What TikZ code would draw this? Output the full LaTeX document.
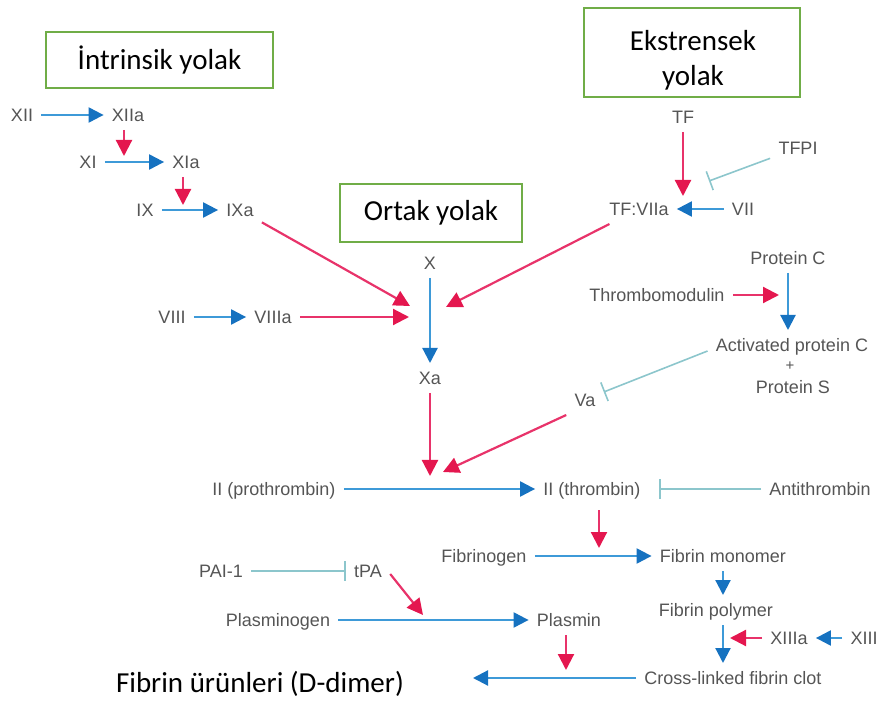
\documentclass[tikz,border=0pt]{standalone}
\usepackage{fontspec}
\setmainfont{Liberation Sans}
\newfontfamily\carlito{Carlito}
\usetikzlibrary{arrows.meta}
\definecolor{gboxc}{HTML}{70AD47}
\definecolor{bl}{HTML}{3E9AD8}
\definecolor{bld}{HTML}{1672C0}
\definecolor{rd}{HTML}{E8336A}
\definecolor{rdd}{HTML}{E4174F}
\definecolor{inh}{HTML}{8CC6CC}
\definecolor{txt}{HTML}{555555}
\begin{document}
\begin{tikzpicture}[x=0.5pt,y=-0.5pt,
  lab/.style={font=\fontsize{9}{11}\selectfont, text=txt, inner sep=4pt, text height=6.6pt, text depth=0pt},
  big/.style={font=\carlito\fontsize{14.5}{17.5}\selectfont, text=black, align=center},
  boxst/.style={draw=gboxc, line width=1.3pt, inner sep=0pt},
  ba/.style={draw=bl, line width=1.1pt, -{Triangle[length=7.5pt,width=7.5pt,color=bld]}},
  ra/.style={draw=rd, line width=1.1pt, -{Triangle[length=8pt,width=8pt,color=rdd]}},
  ia/.style={draw=inh, line width=0.8pt, -{Bar[width=10pt]}},
]
\useasboundingbox (0,0) rectangle (880,706);

% boxes
\node[boxst, big, minimum width=113.5pt, minimum height=28pt] (ibox) at (159.5,60) {İntrinsik yolak};
\node[boxst, big, minimum width=91pt, minimum height=29pt] (obox) at (431,213) {Ortak yolak};
\node[boxst, minimum width=108pt, minimum height=44.5pt] (ebox) at (692,52.5) {};
\node[big] (etext) at (693,60) {Ekstrensek\\yolak};

% labels
\node[lab] (XII) at (22,115) {XII};
\node[lab] (XIIa) at (128,115) {XIIa};
\node[lab] (XI) at (88,162) {XI};
\node[lab] (XIa) at (186,162) {XIa};
\node[lab] (IX) at (145,210) {IX};
\node[lab] (IXa) at (240,210) {IXa};
\node[lab] (X) at (430,263) {X};
\node[lab] (Xa) at (430,378) {Xa};
\node[lab] (VIII) at (172,317) {VIII};
\node[lab] (VIIIa) at (273,317) {VIIIa};
\node[lab] (TF) at (683,117) {TF};
\node[lab] (TFPI) at (798,148) {TFPI};
\node[lab] (TFVIIa) at (639,209) {TF:VIIa};
\node[lab] (VII) at (743,209) {VII};
\node[lab] (PC) at (788,258) {Protein C};
\node[lab] (TM) at (657,295) {Thrombomodulin};
\node[lab] (APC) at (792,345) {Activated protein C};
\node[lab, font=\fontsize{7.5}{8}\selectfont, text height=5pt] (plus) at (790,366) {+};
\node[lab] (PS) at (793,387) {Protein S};
\node[lab] (Va) at (585,400) {Va};
\node[lab] (IIp) at (274,489) {II (prothrombin)};
\node[lab] (IIt) at (592,489) {II (thrombin)};
\node[lab] (AT) at (820,489) {Antithrombin};
\node[lab] (Fg) at (484,556) {Fibrinogen};
\node[lab] (FM) at (723,556) {Fibrin monomer};
\node[lab] (PAI) at (221,571) {PAI-1};
\node[lab] (tPA) at (368,571) {tPA};
\node[lab] (Pg) at (278,620) {Plasminogen};
\node[lab] (Pl) at (569,620) {Plasmin};
\node[lab] (FP) at (716,610) {Fibrin polymer};
\node[lab] (XIIIa) at (789,638) {XIIIa};
\node[lab] (XIII) at (864,638) {XIII};
\node[lab] (CL) at (733,678) {Cross-linked fibrin clot};
\node[big] (FU) at (260,684) {Fibrin ürünleri (D-dimer)};

% coordinates for arrow targets
\coordinate (c1) at (124,156);
\coordinate (c2) at (183,205);
\coordinate (c3) at (410,306);
\coordinate (c4) at (409,317);
\coordinate (c5) at (446,307);
\coordinate (c6) at (683,196);
\coordinate (c7) at (709,181);
\coordinate (c8) at (779,295);
\coordinate (c9) at (443,472);
\coordinate (c10) at (430,476);
\coordinate (c11) at (423,615);
\coordinate (c12) at (659,489);
\coordinate (c13) at (599,548);
\coordinate (c14) at (730,638);
\coordinate (c15) at (566,670);
\coordinate (c16) at (473,678);

% intrinsic
\draw[ba] (XII) -- (XIIa);
\draw[ra] (XIIa.south -| c1) -- (c1);
\draw[ba] (XI) -- (XIa);
\draw[ra] (XIa.south -| c2) -- (c2);
\draw[ba] (IX) -- (IXa);
\draw[ra] (IXa) -- (c3);
\draw[ba] (VIII) -- (VIIIa);
\draw[ra] (VIIIa) -- (c4);
% extrinsic
\draw[ra] (TF) -- (c6);
\draw[ia] (TFPI) -- (c7);
\draw[ba] (VII) -- (TFVIIa);
\draw[ra] (TFVIIa) -- (c5);
% common
\draw[ba] (X) -- (Xa);
\draw[ra] (Xa) -- (c10);
\draw[ra] (TM) -- (c8);
\draw[ba] (PC) -- (PC |- APC.north);
\draw[ia] ([yshift=-3pt]APC.west) -- ([yshift=4pt]Va.east);
\draw[ra] (Va.south west) -- (c9);
\draw[ba] (IIp) -- (IIt);
\draw[ia] (AT) -- (c12);
\draw[ra, shorten <=3pt] (IIt.south -| c13) -- (c13);
\draw[ba] (Fg) -- (FM);
\draw[ba] (FM) -- (FM |- FP.north);
\draw[ba] (FP.south -| FM) -- (FM |- CL.north);
\draw[ba] (XIII) -- (XIIIa);
\draw[ra] (XIIIa) -- (c14);
% fibrinolysis
\draw[ia] (PAI) -- (tPA);
\draw[ra] ([yshift=-1.5pt]tPA.east) -- (c11);
\draw[ba] (Pg) -- (Pl);
\draw[ra] (Pl.south -| c15) -- (c15);
\draw[ba] (CL) -- (c16);
\end{tikzpicture}
\end{document}
